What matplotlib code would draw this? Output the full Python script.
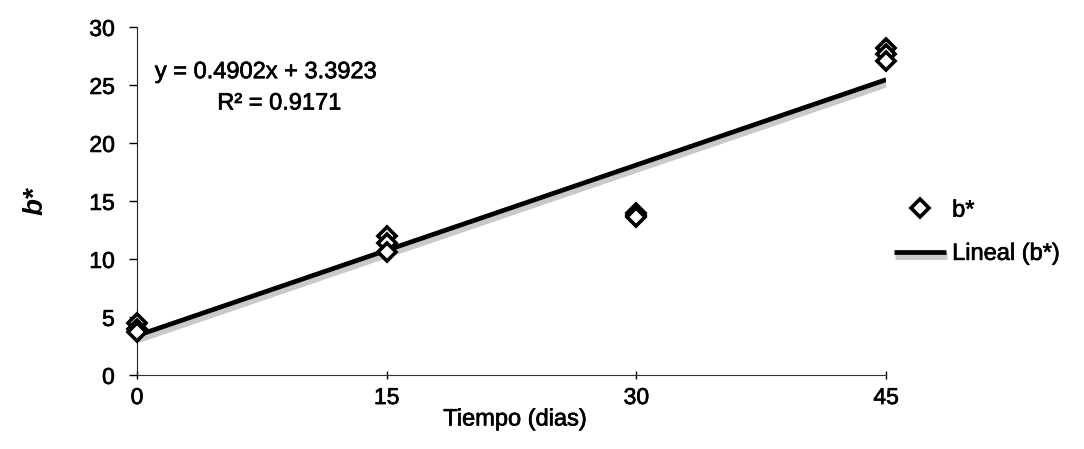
import numpy as np
import matplotlib.pyplot as plt
import matplotlib.patheffects as pe

plt.rcParams['font.family'] = ['Liberation Sans', 'DejaVu Sans']

# datos
dias = [0, 0, 0, 15, 15, 15, 30, 30, 30, 45, 45, 45]
b_star = [4.5, 4.0, 3.7, 12.0, 11.4, 10.6, 14.0, 13.8, 13.6, 28.2, 27.7, 27.1]
pendiente = 0.4902
intercepto = 3.3923
r2 = 0.9171
x_ticks = [0, 15, 30, 45]
y_ticks = [0, 5, 10, 15, 20, 25, 30]

fs_tick = 16.5
fs_txt = 17
grueso = [pe.withStroke(linewidth=0.5, foreground='black')]

fig = plt.figure(figsize=(10.84, 4.49), dpi=100)
ax = fig.add_axes([0.1264, 0.165, 0.691, 0.775])

x_fit = np.array([0, 45])
y_fit = np.polyval([pendiente, intercepto], x_fit)
ax.plot(x_fit, y_fit, color='black', lw=3.4, solid_capstyle='butt', label='Lineal (b*)',
        path_effects=[pe.SimpleLineShadow(offset=(0.5, -3), shadow_color='#888888', alpha=0.45, linewidth=5),
                      pe.Normal()], zorder=2)
ax.plot(dias, b_star, linestyle='none', marker='D', markersize=9.5, markerfacecolor='white',
        markeredgecolor='black', markeredgewidth=2.6, label='b*', clip_on=False, zorder=3)

ax.set_xlim(0, 45)
ax.set_ylim(0, 30)
ax.set_xticks(x_ticks)
ax.set_yticks(y_ticks)
ax.tick_params(axis='both', labelsize=fs_tick, colors='black')
ax.tick_params(axis='x', direction='inout', length=6, width=1, pad=5)
ax.tick_params(axis='y', direction='out', length=6, width=1, pad=10)
for t in ax.get_xticklabels() + ax.get_yticklabels():
    t.set_path_effects(grueso)
for s in ['top', 'right']:
    ax.spines[s].set_visible(False)
ax.spines['left'].set_color('#222222')
ax.spines['bottom'].set_color('#333333')
ax.spines['bottom'].set_linestyle((0, (2, 1)))

ax.set_xlabel('Tiempo (dias)', fontsize=fs_txt, path_effects=grueso, va='center')
ax.xaxis.set_label_coords(0.505, -0.128)
ax.set_ylabel('b*', fontsize=20, fontweight='bold', fontstyle='italic', va='center')
ax.yaxis.set_label_coords(-0.135, 0.5)

ax.text(0.172, 0.87, 'y = %.4fx + %.4f' % (pendiente, intercepto), transform=ax.transAxes,
        ha='center', va='center', fontsize=fs_txt, path_effects=grueso)
ax.text(0.19, 0.78, 'R² = %.4f' % r2, transform=ax.transAxes,
        ha='center', va='center', fontsize=fs_txt, path_effects=grueso)

h, l = ax.get_legend_handles_labels()
leg = ax.legend(h[::-1], l[::-1], loc='center left', bbox_to_anchor=(1.011, 0.41), frameon=False,
                fontsize=fs_txt, handlelength=2.2, handletextpad=0.25, labelspacing=0.9, borderaxespad=0,
                borderpad=0)
for t in leg.get_texts():
    t.set_path_effects(grueso)

plt.savefig('out.png', dpi=100)
plt.close()
